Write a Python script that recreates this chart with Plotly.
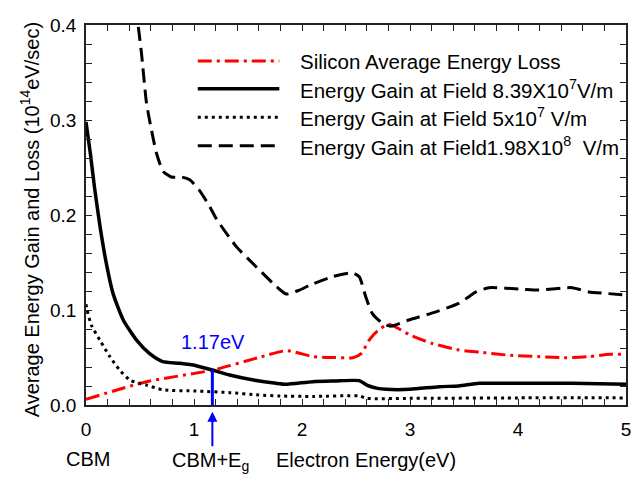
import plotly.graph_objects as go

FONT = "Liberation Sans, Arial, Helvetica, sans-serif"

# Silicon average energy loss
loss_x = [0, 0.56, 1.175, 1.6, 1.86, 2.1, 2.3, 2.47, 2.55, 2.62, 2.7, 2.8, 2.9, 3.0, 3.2, 3.45, 3.65, 3.9, 4.2, 4.45, 4.65, 4.85, 5.0]
loss_y = [0.006, 0.0245, 0.0368, 0.050, 0.0572, 0.051, 0.050, 0.0498, 0.0544, 0.068, 0.078, 0.085, 0.080, 0.0737, 0.065, 0.058, 0.0555, 0.0526, 0.0509, 0.0498, 0.0509, 0.0533, 0.0533]

# Energy gain at 8.39e7 V/m
g1_x = [0, 0.04, 0.08, 0.13, 0.19, 0.25, 0.345, 0.47, 0.59, 0.71, 0.87, 1.02, 1.17, 1.33, 1.55, 1.76, 1.85, 2.1, 2.3, 2.53, 2.6, 2.7, 2.78, 3.0, 3.27, 3.45, 3.64, 4.04, 4.5, 5.0]
g1_y = [0.298, 0.265, 0.228, 0.188, 0.148, 0.1175, 0.0895, 0.068, 0.054, 0.0456, 0.0439, 0.0414, 0.0368, 0.0316, 0.0263, 0.0228, 0.0218, 0.0246, 0.0252, 0.0256, 0.021, 0.0175, 0.0165, 0.0165, 0.0193, 0.020, 0.0228, 0.0228, 0.0228, 0.0218]

# Energy gain at 5e7 V/m
g2_x = [0, 0.01, 0.05, 0.13, 0.22, 0.31, 0.41, 0.56, 0.71, 1.02, 1.33, 1.6, 1.8, 2.1, 2.53, 2.6, 3.0, 4.0, 5.0]
g2_y = [0.106, 0.100, 0.084, 0.068, 0.051, 0.037, 0.026, 0.021, 0.016, 0.0147, 0.013, 0.0105, 0.0095, 0.009, 0.0095, 0.007, 0.007, 0.0075, 0.0075]

# Energy gain at 1.98e8 V/m
g3_x = [0.47, 0.483, 0.514, 0.56, 0.607, 0.653, 0.714, 0.79, 0.883, 0.96, 1.05, 1.145, 1.207, 1.39, 1.58, 1.76, 1.853, 1.976, 2.07, 2.28, 2.47, 2.53, 2.59, 2.65, 2.745, 2.82, 2.99, 3.24, 3.45, 3.545, 3.61, 3.73, 4.04, 4.19, 4.5, 4.655, 4.81, 5.0]
g3_y = [0.42, 0.40, 0.370, 0.318, 0.289, 0.265, 0.246, 0.240, 0.240, 0.237, 0.226, 0.209, 0.196, 0.167, 0.145, 0.125, 0.1168, 0.121, 0.126, 0.135, 0.139, 0.135, 0.114, 0.0965, 0.086, 0.083, 0.0895, 0.098, 0.107, 0.114, 0.119, 0.1235, 0.1218, 0.121, 0.1235, 0.119, 0.1175, 0.1158]

# Crossing marker (band gap)
eg_x = [1.17, 1.17]
eg_y = [0, 0.0368]
eg_label = "1.17eV"

x_ticks = [0, 1, 2, 3, 4, 5]
y_ticks = [0.0, 0.1, 0.2, 0.3, 0.4]

legend_names = [
    "Silicon Average Energy Loss",
    "Energy Gain at Field 8.39X10<sup>7</sup>V/m",
    "Energy Gain at Field 5x10<sup>7</sup> V/m",
    "Energy Gain at Field1.98X10<sup>8</sup>\u00a0\u00a0V/m",
]

RED = "#ff0000"
BLUE = "#0000ff"
styles = [
    dict(color=RED, width=3, dash="14px,5px,3px,5px"),
    dict(color="black", width=3.5, dash="solid"),
    dict(color="black", width=3, dash="3px,4px"),
    dict(color="black", width=3, dash="14px,7px"),
]

fig = go.Figure()
series = [(loss_x, loss_y), (g1_x, g1_y), (g2_x, g2_y), (g3_x, g3_y)]
for (xs, ys), st, nm in zip(series, styles, legend_names):
    fig.add_trace(go.Scatter(x=xs, y=ys, mode="lines", name=nm,
                             line=dict(shape="spline", smoothing=0.6, **st),
                             showlegend=False))

fig.add_trace(go.Scatter(x=eg_x, y=eg_y, mode="lines",
                         line=dict(color=BLUE, width=3), showlegend=False))

# manual legend
leg_y = [0.905, 0.832, 0.757, 0.682]
for name, st, yy in zip(legend_names, styles, leg_y):
    fig.add_shape(type="line", xref="paper", yref="paper",
                  x0=0.207, x1=0.358, y0=yy, y1=yy,
                  line=dict(color=st["color"], width=st["width"], dash=st["dash"]))
    fig.add_annotation(xref="paper", yref="paper", x=0.392, y=yy, text=name,
                       showarrow=False, xanchor="left", yanchor="middle",
                       font=dict(family=FONT, size=20.5, color="black"))

fig.add_annotation(x=1.18, y=0.066, text=eg_label, showarrow=False,
                   xanchor="center", yanchor="middle",
                   font=dict(family=FONT, size=20, color=BLUE))

# arrow below axis
fig.add_annotation(x=eg_x[0], xref="x", y=-0.018, yref="paper", text="",
                   showarrow=True, ax=0, ay=36, arrowhead=2, arrowsize=1,
                   arrowwidth=2, arrowcolor=BLUE)

bottom = dict(showarrow=False, xanchor="center", yanchor="middle",
              font=dict(family=FONT, size=20, color="black"))
fig.add_annotation(x=0.02, xref="x", y=-0.143, yref="paper", text="CBM", **bottom)
fig.add_annotation(x=1.15, xref="x", y=-0.15, yref="paper", text="CBM+E<sub>g</sub>", **bottom)
fig.add_annotation(x=2.59, xref="x", y=-0.145, yref="paper", text="Electron Energy(eV)", **bottom)

fig.add_annotation(x=-0.103, xref="paper", y=0.487, yref="paper",
                   text="Average Energy Gain and Loss (10<sup>14</sup>eV/sec)",
                   textangle=-90, showarrow=False, xanchor="center", yanchor="middle",
                   font=dict(family=FONT, size=20, color="black"))

axis_common = dict(showline=True, linecolor="#222", linewidth=1.5, mirror="allticks",
                   ticks="inside", ticklen=6, tickwidth=1, tickcolor="#222",
                   showgrid=False, zeroline=False,
                   tickfont=dict(family=FONT, size=19, color="black"))

fig.update_xaxes(range=[0, 5], tickvals=x_ticks, ticklabelstandoff=6,
                 minor=dict(dtick=0.2, ticks="inside", ticklen=6, tickcolor="#222"),
                 **axis_common)
fig.update_yaxes(range=[0, 0.4], tickvals=y_ticks, tickformat=".1f",
                 ticklabelstandoff=4,
                 minor=dict(dtick=0.02, ticks="inside", ticklen=6, tickcolor="#222"),
                 **axis_common)

fig.update_layout(width=643, height=482, margin=dict(l=86, r=15, t=25, b=77),
                  plot_bgcolor="white", paper_bgcolor="white",
                  font=dict(family=FONT, size=20, color="black"))

fig.write_html("out.html")
